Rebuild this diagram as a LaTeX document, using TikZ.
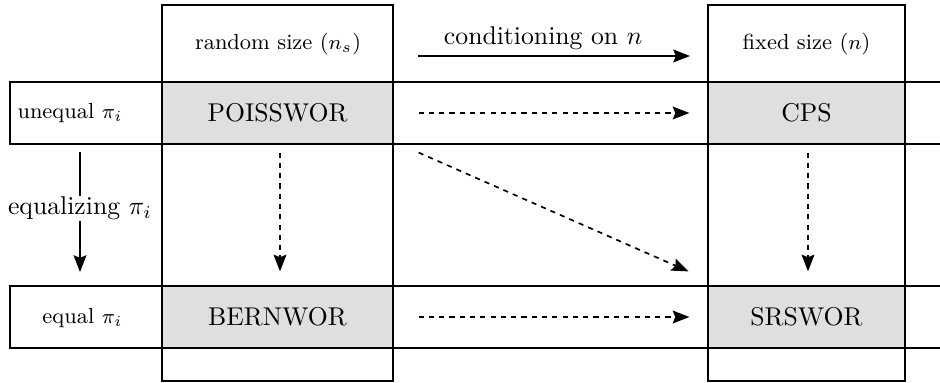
\documentclass[tikz,border=0pt]{standalone}
\usepackage{amsmath}
\usepackage{tikz}
\usetikzlibrary{arrows.meta,calc}

\begin{document}
\begin{tikzpicture}[x=0.389pt,y=-0.389pt,>={Stealth[length=6.5pt,width=5pt,inset=1pt]},
  frame/.style={line width=0.5pt},
  cell/.style={rectangle,draw,line width=0.5pt,fill=gray!25,minimum height=24.1pt,inner sep=0pt},
  head node/.style={font=\fontsize{8.5}{10}\selectfont},
  side node/.style={font=\fontsize{8.5}{10}\selectfont,anchor=east,inner sep=0pt},
  dash arrow/.style={->,line width=0.65pt,dash pattern=on 2pt off 2pt},
  plain arrow/.style={->,line width=0.65pt}]

  \useasboundingbox (0,0) rectangle (940,383);

  % columns and rows
  \draw[frame] (162,5) rectangle (393,381);
  \draw[frame] (708,5) rectangle (905,381);
  \draw[frame] (940,82) -- (10,82) -- (10,144) -- (940,144);
  \draw[frame] (940,286) -- (10,286) -- (10,348) -- (940,348);

  \node[head node] (rnd) at (278,44) {random size ($n_s$)};
  \node[head node] (fix) at (806.5,44) {fixed size ($n$)};
  \node[side node] (uneq) at (123,113) {unequal $\pi_i$};
  \node[side node] (eq) at (123,318) {equal $\pi_i$};

  \node[cell,minimum width=89.9pt] (pois) at (277.5,113) {POISSWOR};
  \node[cell,minimum width=76.6pt] (cps) at (806.5,113) {CPS};
  \node[cell,minimum width=89.9pt] (bern) at (277.5,317) {BERNWOR};
  \node[cell,minimum width=76.6pt] (srs) at (806.5,317) {SRSWOR};

  \coordinate (c1) at (418,56);
  \coordinate (c2) at (690,56);
  \coordinate (e1) at (80,152);
  \coordinate (e2) at (80,272);

  \draw[plain arrow] (c1) -- node[above,pos=0.46,inner sep=2pt] {conditioning on $n$} (c2);
  \draw[plain arrow] (e1) -- node[fill=white,inner sep=0.5pt,pos=0.47] {equalizing $\pi_i$} (e2);

  \path[dash arrow,shorten <=9.7pt,shorten >=7pt]
    (pois) edge (cps)
    (bern) edge (srs);
  \draw[dash arrow] ($(pois.south)+(2.5,8)$) -- ($(bern.north)+(2.5,-14)$);
  \draw[dash arrow] ($(cps.south)+(1.5,8)$) -- ($(srs.north)+(1.5,-14)$);
  \draw[dash arrow] ($(pois.south east)+(25,8)$) -- ($(srs.north west)+(-19,-14)$);

\end{tikzpicture}
\end{document}
